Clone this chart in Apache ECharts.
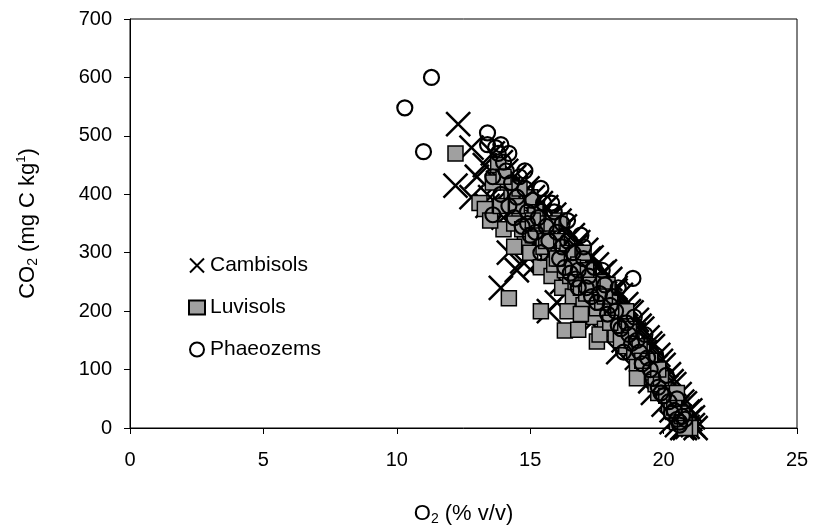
<!DOCTYPE html>
<html><head><meta charset="utf-8">
<script src="https://cdn.jsdelivr.net/npm/echarts@6/dist/echarts.min.js"></script>
<style>html,body{margin:0;padding:0;background:#fff}#c{width:813px;height:531px}</style>
</head><body><div id="c"></div>
<script>
const xTicks = [0, 5, 10, 15, 20, 25];
const yTicks = [0, 100, 200, 300, 400, 500, 600, 700];
const seriesNames = ['Cambisols', 'Luvisols', 'Phaeozems'];

const cambO2 = [12.3,12.8,12.2,13.9,14.5,14.7,15.7,16.0,15.2,14.2,13.0,13.5,
 13.6,13.9,14.1,14.4,14.6,14.9,15.1,15.4,15.6,15.9,16.1,16.3,16.6,16.8,17.1,17.3,17.5,17.8,18.0,18.2,18.4,18.6,18.8,19.0,19.2,19.4,19.6,19.8,20.0,20.2,20.4,20.6,20.8,20.9,21.0,21.1,21.2,20.7,20.5,20.3,
 14.5,15.0,15.5,16.0,16.5,17.0,17.5,18.0,18.5,19.0,19.5,20.0,20.3,19.2,18.3,17.3,16.2,15.3,14.0,13.4,12.8,20.6,20.9,
 14.2,14.8,15.3,15.8,16.4,16.9,17.4,17.9,18.4,18.9,19.3,19.7,20.1,20.5,21.0,20.8,15.5,16.7,17.8,19.6,
 13.3,13.8,14.3,14.7,15.2,15.7,16.2,16.7,17.2,17.7,18.2,18.7,19.1,19.5,19.9,20.3,20.7,21.1,18.9,17.6,16.5,15.2];
const cambCO2 = [520,480,415,240,270,285,200,215,280,300,430,395,
 470,455,440,430,420,410,395,385,378,365,355,345,330,318,305,292,280,268,255,240,228,212,198,185,170,155,140,125,108,92,75,58,42,28,15,5,0,0,5,10,
 380,350,330,300,280,250,220,190,150,120,80,40,30,100,130,180,250,310,360,380,395,20,2,
 410,380,360,330,300,270,245,220,190,160,130,105,70,35,30,0,290,230,180,60,
 450,420,395,400,385,360,340,310,290,265,235,200,175,145,115,80,45,18,140,200,260,320];

const luviO2 = [12.2,13.1,13.3,14.2,15.4,16.3,16.8,17.5,13.8,14.0,13.5,
 14.3,14.6,14.8,15.0,15.2,15.4,15.6,15.8,16.0,16.2,16.4,16.6,16.8,17.0,17.2,17.4,17.6,17.8,18.0,18.2,18.4,18.6,18.8,19.0,19.2,19.4,19.6,19.8,20.0,20.2,20.4,20.6,20.8,20.9,21.0,
 14.9,15.7,16.5,17.3,18.1,18.9,19.7,20.5,14.1,15.0,16.1,17.0,17.9,
 14.4,14.7,15.1,15.3,15.5,15.9,16.1,16.3,16.7,16.9,17.1,17.5,17.7,18.3,18.5,18.7,19.1,19.3,19.5,19.9,20.1,20.3,20.7,14.6,15.8,17.1,18.6,13.6,13.9,14.4,16.4,17.6,19.0,
 14.0,14.5,15.1,15.6,16.0,16.6,17.2,17.8,18.4,19.2,19.8,20.4,20.8,20.5,16.9,18.0];
const luviCO2 = [470,385,375,222,200,167,168,148,450,340,355,
 400,360,320,300,370,275,340,260,320,240,300,225,280,210,265,190,250,170,215,160,180,140,150,110,130,90,95,60,70,40,50,25,15,5,0,
 390,300,260,230,195,130,75,10,420,395,355,300,245,
 350,340,330,350,310,280,290,270,250,240,230,205,215,200,165,170,140,105,115,85,55,30,20,410,350,270,200,420,380,310,200,160,85,
 430,380,355,320,290,275,245,225,150,115,100,35,0,60,195,180];

const phaeO2 = [10.3,11.3,11.0,13.4,13.4,18.85,13.6,
 13.7,13.8,14.0,14.1,14.3,14.6,14.8,13.6,13.9,14.2,14.5,14.9,15.1,15.3,15.5,15.6,15.9,16.0,16.2,16.4,16.6,16.8,17.0,17.2,17.4,17.6,17.8,18.0,18.2,18.4,18.6,18.8,19.0,19.2,19.4,19.6,19.8,20.0,20.2,20.4,20.5,20.6,20.7,15.0,16.5,17.3,15.4,
 14.4,14.7,15.2,15.7,16.1,16.3,16.7,17.1,17.5,17.9,18.3,18.7,19.1,19.5,19.9,20.3,20.6,16.2,17.0,18.1,
 13.9,14.2,14.8,15.4,15.8,16.4,16.9,17.7,18.3,18.9,19.3,19.7,20.1,20.5,20.8,14.9,16.8,18.5];
const phaeCO2 = [548,600,473,505,485,256,365,
 480,470,455,440,420,430,410,430,400,380,395,370,390,360,385,345,370,335,310,320,300,270,290,260,275,230,245,210,200,170,180,145,150,110,120,85,70,55,45,30,15,10,20,330,265,225,300,
 360,345,335,320,290,275,255,240,215,195,175,160,130,100,60,25,5,350,310,225,
 485,470,440,410,385,355,330,270,240,190,160,125,90,50,15,350,240,130];

function pairs(xs, ys){ return xs.map((x,i)=>[x, ys[i]]); }

const FONT = 'Liberation Sans';
const FS = 20;
const NFS = 22;
const chart = echarts.init(document.getElementById('c'));
chart.setOption({
  animation: false,
  backgroundColor: '#fff',
  textStyle: {fontFamily: FONT, color: '#000', fontSize: FS},
  grid: {left: 130, right: 16, top: 19, bottom: 101, show: true, borderColor: '#000', borderWidth: 1, backgroundColor: 'transparent'},
  legend: {
    orient: 'vertical', left: 183, top: 250, itemGap: 21, itemWidth: 16, itemHeight: 14,
    data: seriesNames,
    textStyle: {fontFamily: FONT, fontSize: 21, color: '#000'}
  },
  xAxis: {
    type: 'value', min: xTicks[0], max: xTicks[xTicks.length-1], interval: 5,
    name: '{n|O}{s|2}{n| (% v/v)}', nameLocation: 'middle', nameGap: 73,
    nameTextStyle: {fontFamily: FONT, fontSize: NFS, color: '#000',
      rich: {n: {fontFamily: FONT, fontSize: NFS, color: '#000'}, s: {fontFamily: FONT, fontSize: 14, color: '#000', verticalAlign: 'bottom', padding: [11,0,0,0]}}},
    axisLine: {show: true, onZero: false, lineStyle: {color: '#000', width: 1}},
    axisTick: {show: true, inside: false, length: 6, lineStyle: {color: '#000'}},
    axisLabel: {fontFamily: FONT, fontSize: FS, color: '#000', margin: 22},
    splitLine: {show: false}
  },
  yAxis: {
    type: 'value', min: yTicks[0], max: yTicks[yTicks.length-1], interval: 100,
    name: '{n|CO}{s|2}{n| (mg C kg}{p|1}{n|)}', nameLocation: 'middle', nameGap: 90, nameRotate: 90,
    nameTextStyle: {fontFamily: FONT, fontSize: NFS, color: '#000',
      rich: {n: {fontFamily: FONT, fontSize: NFS, color: '#000'}, s: {fontFamily: FONT, fontSize: 14, color: '#000', verticalAlign: 'bottom', padding: [11,0,0,0]}, p: {fontFamily: FONT, fontSize: 13, color: '#000', verticalAlign: 'top', padding: [0,0,11,0]}}},
    axisLine: {show: true, onZero: false, lineStyle: {color: '#000', width: 1}},
    axisTick: {show: true, inside: false, length: 6, lineStyle: {color: '#000'}},
    axisLabel: {fontFamily: FONT, fontSize: FS, color: '#000', margin: 18},
    splitLine: {show: false}
  },
  series: [
    {name: seriesNames[0], type: 'scatter', data: pairs(cambO2, cambCO2),
     symbol: 'path://M0,0L10,10M10,0L0,10', symbolSize: 24,
     itemStyle: {color: 'rgba(0,0,0,0)', borderColor: '#000', borderWidth: 2.5, opacity: 1}},
    {name: seriesNames[1], type: 'scatter', data: pairs(luviO2, luviCO2),
     symbol: 'rect', symbolSize: 15,
     itemStyle: {color: '#a0a0a0', borderColor: '#000', borderWidth: 1.5, opacity: 1}},
    {name: seriesNames[2], type: 'scatter', data: pairs(phaeO2, phaeCO2),
     symbol: 'circle', symbolSize: 15,
     itemStyle: {color: 'rgba(255,255,255,0)', borderColor: '#000', borderWidth: 2.2, opacity: 1}}
  ]
});
</script></body></html>
